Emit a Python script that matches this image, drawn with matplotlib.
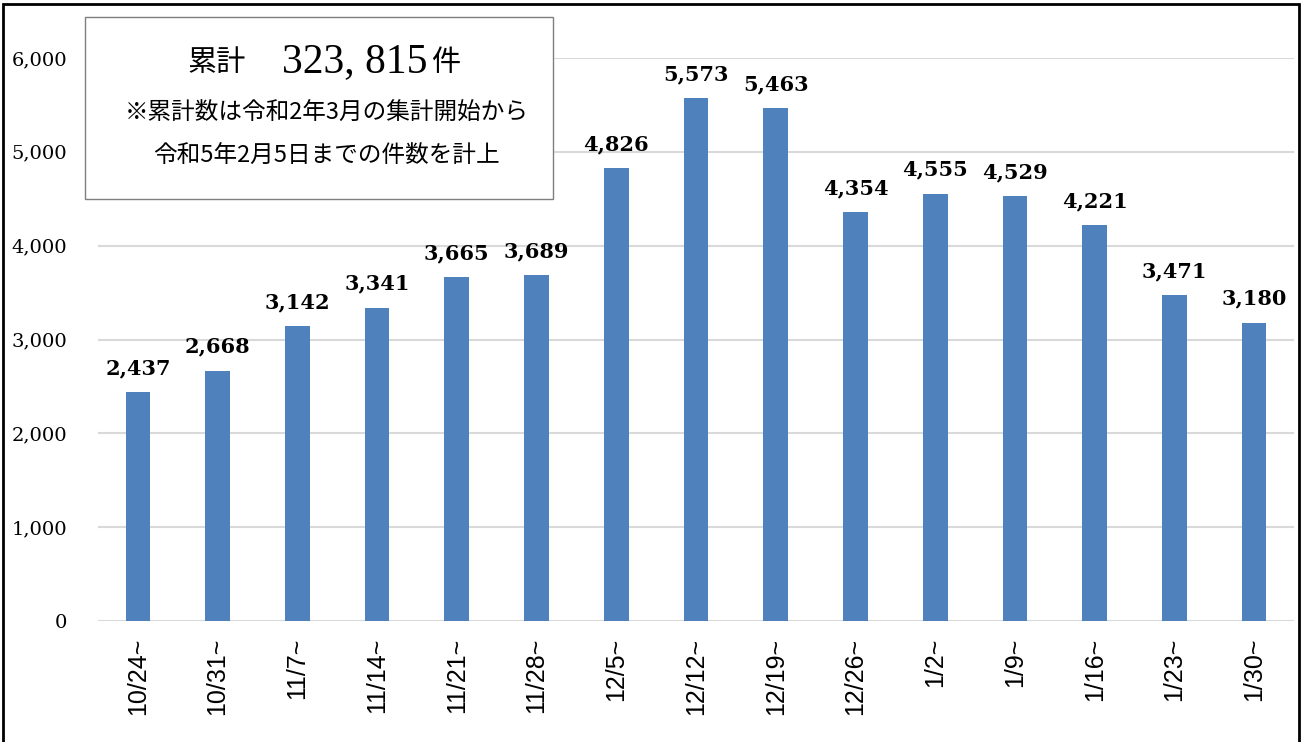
import matplotlib
matplotlib.use("Agg")
import matplotlib.pyplot as plt
from matplotlib.patches import Rectangle

weeks = ["10/24~", "10/31~", "11/7~", "11/14~", "11/21~", "11/28~", "12/5~", "12/12~",
         "12/19~", "12/26~", "1/2~", "1/9~", "1/16~", "1/23~", "1/30~"]
counts = [2437, 2668, 3142, 3341, 3665, 3689, 4826, 5573, 5463, 4354, 4555, 4529, 4221, 3471, 3180]
yticks = [0, 1000, 2000, 3000, 4000, 5000, 6000]

serif = ["DejaVu Serif", "Noto Sans CJK JP"]
tserif = ["Liberation Serif", "Noto Sans CJK JP"]
cjk = ["Noto Sans CJK JP", "DejaVu Sans"]

fig = plt.figure(figsize=(13.02, 7.42), dpi=100)
ax = fig.add_axes([98 / 1302, 121 / 742, 1196 / 1302, 563 / 742])

x = range(len(weeks))
ax.bar(x, counts, width=0.31, color="#4F81BD", zorder=3)
for i, v in enumerate(counts):
    ax.annotate(f"{v:,}", (i, v), xytext=(0, 10), textcoords="offset points",
                ha="center", va="bottom", fontsize=15, fontweight="bold",
                family=serif, annotation_clip=False)

ax.set_xlim(-0.5, len(weeks) - 0.5)
ax.set_ylim(0, 6000)
ax.set_yticks(yticks)
ax.set_yticklabels([f"{t:,}" for t in yticks], family=serif, fontsize=14)
ax.set_xticks(list(x))
ax.set_xticklabels(weeks, rotation=90, family="Liberation Sans", fontsize=18)
ax.tick_params(axis="y", length=0, pad=22)
ax.tick_params(axis="x", length=0, pad=12)
ax.grid(axis="y", color="#D9D9D9", linewidth=1.5, zorder=0)
for s in ax.spines.values():
    s.set_visible(False)

# outer frame
fig.patches.append(Rectangle((3 / 1302, -0.05), 1296 / 1302, 1.05 - 4 / 742,
                             transform=fig.transFigure, fill=False,
                             edgecolor="black", linewidth=2))

# summary box
fig.patches.append(Rectangle((85 / 1302, 1 - 199 / 742), 468 / 1302, 182 / 742,
                             transform=fig.transFigure, facecolor="white",
                             edgecolor="#7F7F7F", linewidth=1, zorder=5))
fig.text(217 / 1302, 1 - 63 / 742, "累計", family=cjk, fontsize=21,
         ha="center", va="center", zorder=6)
fig.text(355 / 1302, 1 - 62 / 742, "323, 815", family=tserif, fontsize=30,
         ha="center", va="center", zorder=6)
fig.text(446 / 1302, 1 - 63 / 742, "件", family=cjk, fontsize=21,
         ha="center", va="center", zorder=6)
fig.text(327 / 1302, 1 - 113 / 742, "※累計数は令和2年3月の集計開始から", family=cjk,
         fontsize=17, ha="center", va="center", zorder=6)
fig.text(326 / 1302, 1 - 156 / 742, "令和5年2月5日までの件数を計上", family=cjk,
         fontsize=17, ha="center", va="center", zorder=6)

fig.savefig("out.png", dpi=100)
